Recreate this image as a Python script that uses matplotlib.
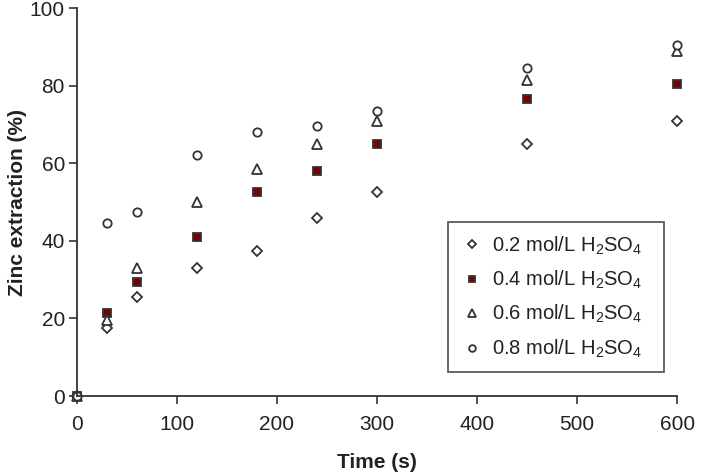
import matplotlib
matplotlib.use('Agg')
import matplotlib.pyplot as plt

plt.rcParams['font.family'] = ['Liberation Sans', 'DejaVu Sans']
plt.rcParams['mathtext.default'] = 'regular'

time_s = [0, 30, 60, 120, 180, 240, 300, 450, 600]
c02 = [0, 17.5, 25.5, 33, 37.5, 46, 52.5, 65, 71]
c04 = [0, 21.5, 29.5, 41, 52.5, 58, 65, 76.5, 80.5]
c06 = [0, 19.5, 33, 50, 58.5, 65, 71, 81.5, 89]
c08 = [0, 44.5, 47.5, 62, 68, 69.5, 73.5, 84.5, 90.5]
labels = ['0.2 mol/L H$_2$SO$_4$', '0.4 mol/L H$_2$SO$_4$',
          '0.6 mol/L H$_2$SO$_4$', '0.8 mol/L H$_2$SO$_4$']

edge = '#333333'
txt = '#222222'
fig = plt.figure(figsize=(7.04, 4.72), dpi=100)
ax = fig.add_axes([0.109, 0.161, 0.853, 0.822])

styles = [('D', 'white', 5.0), ('s', '#7a0000', 6.0), ('^', 'white', 6.5), ('o', 'white', 6.0)]
for ys, lab, (m, fc, ms) in zip([c02, c04, c06, c08], labels, styles):
    ax.plot(time_s, ys, linestyle='none', marker=m, markersize=ms,
            markerfacecolor=fc, markeredgecolor=edge, markeredgewidth=1.3,
            label=lab, clip_on=False)

ax.set_xlim(0, 600)
ax.set_ylim(0, 100)
ax.set_xticks(range(0, 601, 100))
ax.set_yticks(range(0, 101, 20))
for s in ['top', 'right']:
    ax.spines[s].set_visible(False)
for s in ['left', 'bottom']:
    ax.spines[s].set_color(edge)
    ax.spines[s].set_linewidth(1.3)
ax.tick_params(colors=edge, labelcolor=txt, labelsize=15, width=1.2, length=5.5)
ax.tick_params(axis='x', pad=8)
ax.tick_params(axis='y', pad=3)
ax.set_xlabel('Time (s)', fontsize=15, fontweight='bold', color=txt, labelpad=14)
ax.set_ylabel('Zinc extraction (%)', fontsize=15, fontweight='bold', color=txt, labelpad=2)

leg = ax.legend(loc='lower left', bbox_to_anchor=(0.618, 0.062, 0.36, 0.384), mode='expand',
                borderaxespad=0, fontsize=14.5, frameon=True, fancybox=False, edgecolor=edge,
                handletextpad=0.4, labelspacing=0.6, handlelength=1.2, borderpad=0.6,
                markerscale=0.8)
leg.get_frame().set_linewidth(1.3)
for t in leg.get_texts():
    t.set_color(txt)

fig.savefig('out.png', dpi=100)
